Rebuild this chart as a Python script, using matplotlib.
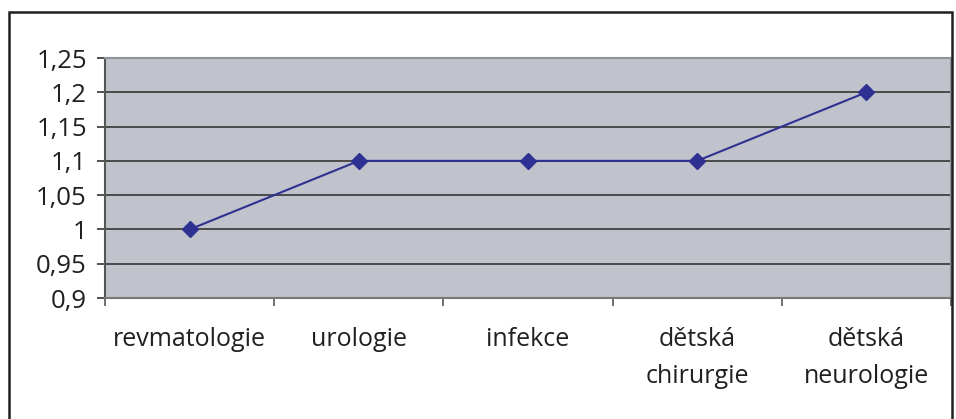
import numpy as np
import matplotlib.pyplot as plt
from matplotlib.patches import Rectangle

# data
categories = ['revmatologie', 'urologie', 'infekce', 'dětská\nchirurgie', 'dětská\nneurologie']
values = [1.0, 1.1, 1.1, 1.1, 1.2]
yticks = [0.9, 0.95, 1.0, 1.05, 1.1, 1.15, 1.2, 1.25]
ytick_labels = ['0,9', '0,95', '1', '1,05', '1,1', '1,15', '1,2', '1,25']

plt.rcParams['font.family'] = ['Open Sans', 'DejaVu Sans']

fig = plt.figure(figsize=(9.56, 4.19), dpi=100)
ax = fig.add_axes([105/956, 1 - 298/419, 846/956, 240/419])
ax.set_facecolor('#c0c3cb')

x = np.arange(len(categories))
ax.plot(x, values, color='#2e3192', lw=1.5, marker='D', ms=8, zorder=3)

ax.set_xlim(-0.5, len(categories) - 0.5)
ax.set_ylim(0.9, 1.25)
ax.set_yticks(yticks)
ax.set_yticklabels(ytick_labels, fontsize=18.5, color='#231f20')
for yv in yticks[1:-1]:
    ax.axhline(yv, color='#4a4a4a', lw=1.4, zorder=1)

# category labels in the middle, ticks on the boundaries
ax.set_xticks(np.arange(-0.5, len(categories)), minor=False)
ax.set_xticklabels([])
ax.set_xticks(x, minor=True)
ax.set_xticklabels(categories, minor=True, fontsize=18, color='#231f20', linespacing=1.6)
ax.tick_params(axis='x', which='minor', length=0, pad=21)
ax.tick_params(axis='x', which='major', length=6, width=1.2, color='#555555')
ax.tick_params(axis='y', length=6, width=1.2, color='#333333', pad=7)

for s in ['top', 'right']:
    ax.spines[s].set_color('#8e949a')
    ax.spines[s].set_linewidth(1.5)
ax.spines['left'].set_color('#555555')
ax.spines['left'].set_linewidth(1.5)
ax.spines['bottom'].set_color('#777777')
ax.spines['bottom'].set_linewidth(1.5)

# outer frame around the chart
fig.patches.append(Rectangle((9/956, -0.1), (952 - 9)/956, 1.1 - 12/419,
                             transform=fig.transFigure, fill=False,
                             edgecolor='#231f20', lw=1.8))

fig.savefig('out.png', dpi=100)
